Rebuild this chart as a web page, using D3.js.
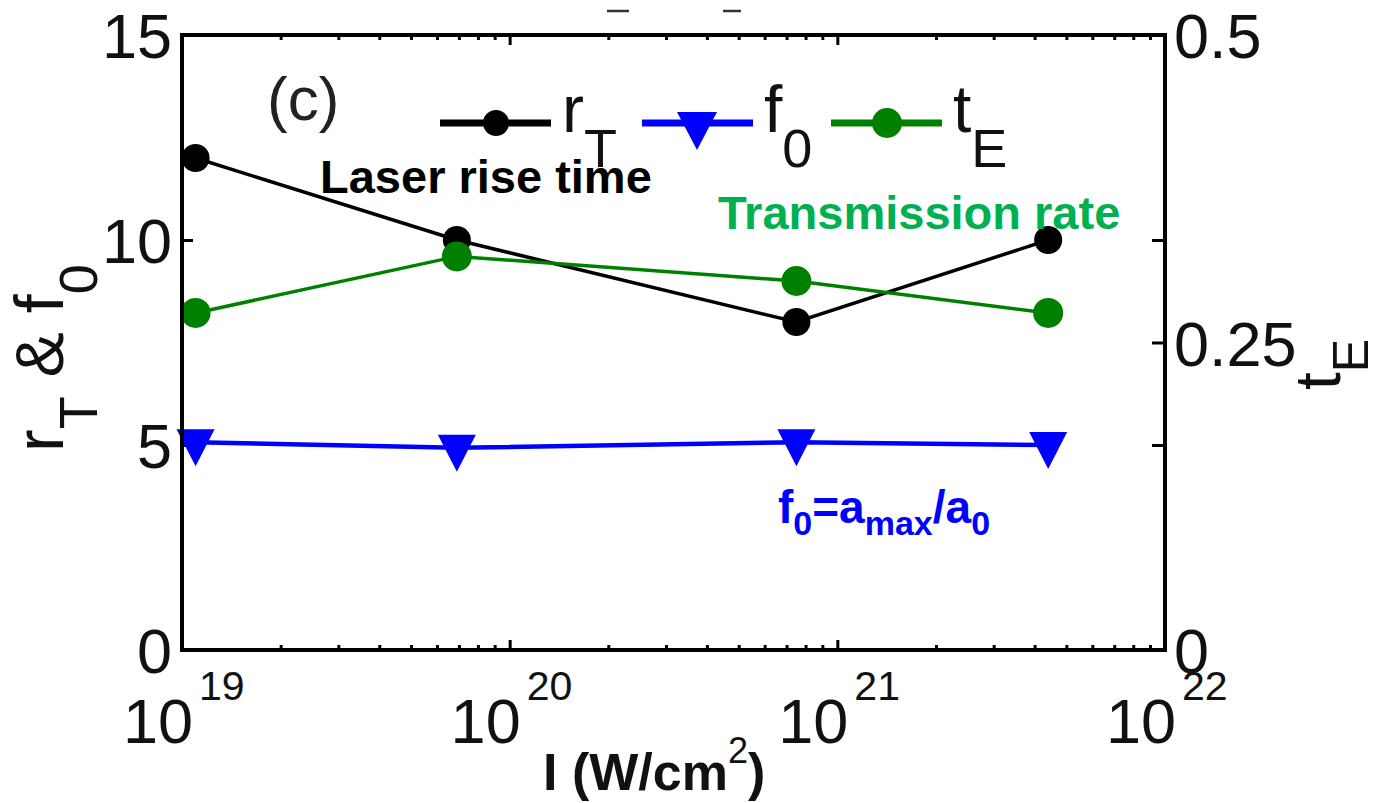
<!DOCTYPE html>
<html>
<head>
<meta charset="utf-8">
<script src="https://cdn.jsdelivr.net/npm/d3@7"></script>
<style>
  html, body { margin: 0; padding: 0; background: #fff; }
  svg { display: block; font-family: "Liberation Sans", Arial, Helvetica, sans-serif; }
</style>
</head>
<body>
<svg id="chart" width="1375" height="803"></svg>
<script>
// Laser intensity (W/cm^2) for each simulation run
const intensity = [1.1e19, 6.9e19, 7.5e20, 4.4e21];
// Laser rise time r_T (left axis)
const riseTime = [12, 10, 8, 10];
// Field amplification f0 = a_max / a0 (left axis)
const fieldRatio = [5.07, 4.93, 5.07, 5.0];
// Energy transmission rate t_E (right axis)
const transmission = [0.274, 0.32, 0.30, 0.274];

// Axis ticks
const xDecades = [19, 20, 21, 22];
const leftTicks = [0, 5, 10, 15];
const rightTickLabels = [0, 0.25, 0.5];
const rightTickMarks = [0.5 / 3, 0.25, 1 / 3];

const svg = d3.select("#chart");
const plotLeft = 182, plotRight = 1165, plotTop = 35, plotBottom = 650;

const x = d3.scaleLog().domain([1e19, 1e22]).range([plotLeft, plotRight]);
const yL = d3.scaleLinear().domain([0, 15]).range([plotBottom, plotTop]);
const yR = d3.scaleLinear().domain([0, 0.5]).range([plotBottom, plotTop]);

const majors = xDecades.map(e => Math.pow(10, e));
const minors = [];
for (let e = 19; e < 22; e++) for (let m = 2; m <= 9; m++) minors.push(m * Math.pow(10, e));

// ---- tick marks (inward) ----
function ticks(axis, transform) {
  const g = svg.append("g").attr("transform", transform).call(axis);
  g.select(".domain").remove();
  g.selectAll("line").attr("stroke", "#000").attr("stroke-width", 3);
  g.selectAll("text").remove();
  return g;
}
ticks(d3.axisBottom(x).tickValues(minors).tickSize(-5).tickFormat(""), `translate(0,${plotBottom})`);
ticks(d3.axisBottom(x).tickValues(majors).tickSize(-10).tickFormat(""), `translate(0,${plotBottom})`);
ticks(d3.axisTop(x).tickValues(minors).tickSize(-5).tickFormat(""), `translate(0,${plotTop})`);
ticks(d3.axisTop(x).tickValues(majors).tickSize(-10).tickFormat(""), `translate(0,${plotTop})`);
ticks(d3.axisLeft(yL).tickValues(leftTicks).tickSize(-11).tickFormat(""), `translate(${plotLeft},0)`);
ticks(d3.axisRight(yR).tickValues(rightTickMarks).tickSize(-13).tickFormat(""), `translate(${plotRight},0)`);

// ---- data lines and markers ----
const pts = (ys, yScale) => intensity.map((v, i) => [x(v), yScale(ys[i])]);
const line = d3.line();
const triangle = "M-19,-13L19,-13L0,24Z";

function series(ys, yScale, color, width, marker, r) {
  const p = pts(ys, yScale);
  svg.append("path").attr("d", line(p)).attr("fill", "none")
    .attr("stroke", color).attr("stroke-width", width);
  const g = svg.append("g");
  if (marker === "circle") {
    g.selectAll("circle").data(p).join("circle")
      .attr("cx", d => d[0]).attr("cy", d => d[1]).attr("r", r).attr("fill", color);
  } else {
    g.selectAll("path").data(p).join("path")
      .attr("d", triangle).attr("transform", d => `translate(${d[0]},${d[1]})`).attr("fill", color);
  }
}
series(riseTime, yL, "#000000", 3.5, "circle", 14);
series(fieldRatio, yL, "#0000ff", 4.5, "triangle");
series(transmission, yR, "#008000", 3.5, "circle", 15);

// ---- frame ----
svg.append("rect").attr("x", plotLeft).attr("y", plotTop)
  .attr("width", plotRight - plotLeft).attr("height", plotBottom - plotTop)
  .attr("fill", "none").attr("stroke", "#000").attr("stroke-width", 4);

// ---- tick labels ----
const tickFont = 63;
svg.append("g").selectAll("text").data(leftTicks).join("text")
  .attr("x", 172).attr("y", d => yL(d) + 23)
  .attr("text-anchor", "end").attr("font-size", tickFont).attr("fill", "#111")
  .text(d => d);

svg.append("g").selectAll("text").data(rightTickLabels).join("text")
  .attr("x", 1174).attr("y", d => yR(d) + 23)
  .attr("text-anchor", "start").attr("font-size", tickFont).attr("fill", "#111")
  .text(d => d);

const xl = svg.append("g").selectAll("g").data(xDecades).join("g")
  .attr("transform", d => `translate(${x(Math.pow(10, d))},0)`);
xl.append("text").attr("x", 11).attr("y", 743).attr("text-anchor", "end")
  .attr("font-size", tickFont).attr("fill", "#111").text("10");
xl.append("text").attr("x", 17).attr("y", 700).attr("text-anchor", "start")
  .attr("font-size", 41).attr("fill", "#111").text(d => d);

// ---- axis titles ----
const xt = svg.append("text").attr("x", 543).attr("y", 790)
  .attr("font-size", 52).attr("font-weight", "bold").attr("fill", "#111");
xt.append("tspan").text("I (W/cm");
xt.append("tspan").attr("dy", -27).attr("font-size", 36).attr("font-weight", "normal").text("2");
xt.append("tspan").attr("dy", 27).text(")");

const yt = svg.append("text").attr("transform", "translate(63,452) rotate(-90)")
  .attr("font-size", 68).attr("fill", "#111");
yt.append("tspan").text("r");
yt.append("tspan").attr("dy", 34).attr("font-size", 54).text("T");
yt.append("tspan").attr("dy", -34).text(" & f");
yt.append("tspan").attr("dy", 34).attr("font-size", 54).text("0");

const yt2 = svg.append("text").attr("transform", "translate(1340,390) rotate(-90)")
  .attr("font-size", 64).attr("fill", "#111");
yt2.append("tspan").text("t");
yt2.append("tspan").attr("dy", 28).attr("font-size", 50).text("E");

// ---- annotations ----
svg.append("text").attr("x", 267).attr("y", 120).attr("font-size", 62)
  .attr("fill", "#222").text("(c)");

svg.append("text").attr("x", 320).attr("y", 193).attr("font-size", 47)
  .attr("font-weight", "bold").attr("fill", "#000").text("Laser rise time");

svg.append("text").attr("x", 718).attr("y", 229).attr("font-size", 47)
  .attr("font-weight", "bold").attr("fill", "#00b050").text("Transmission rate");

const fa = svg.append("text").attr("x", 778).attr("y", 523).attr("font-size", 46)
  .attr("font-weight", "bold").attr("fill", "#0000ff");
fa.append("tspan").text("f");
fa.append("tspan").attr("dy", 12).attr("font-size", 34).text("0");
fa.append("tspan").attr("dy", -12).text("=a");
fa.append("tspan").attr("dy", 12).attr("font-size", 34).text("max");
fa.append("tspan").attr("dy", -12).text("/a");
fa.append("tspan").attr("dy", 12).attr("font-size", 34).text("0");

// ---- legend ----
const legendItems = [
  { x0: 440, color: "#000000", marker: "circle", r: 13, name: "r", sub: "T" },
  { x0: 642, color: "#0000ff", marker: "triangle", name: "f", sub: "0" },
  { x0: 831, color: "#008000", marker: "circle", r: 15, name: "t", sub: "E" }
];
const ly = 123;
const lg = svg.append("g").selectAll("g").data(legendItems).join("g")
  .attr("transform", d => `translate(${d.x0},${ly})`);
lg.append("line").attr("x1", 0).attr("x2", 111).attr("y1", 0).attr("y2", 0)
  .attr("stroke", d => d.color).attr("stroke-width", 7);
lg.filter(d => d.marker === "circle").append("circle")
  .attr("cx", 56).attr("cy", 0).attr("r", d => d.r).attr("fill", d => d.color);
lg.filter(d => d.marker === "triangle").append("path")
  .attr("d", "M-20,-11L20,-11L0,27Z").attr("transform", "translate(55,0)")
  .attr("fill", d => d.color);
const lt = lg.append("text").attr("x", 122).attr("y", 9).attr("font-size", 66).attr("fill", "#111");
lt.append("tspan").text(d => d.name);
lt.append("tspan").attr("dy", 35).attr("font-size", 54).text(d => d.sub);

// ---- remnants of the clipped heading above the frame ----
svg.append("g").selectAll("line").data([[607, 629], [723, 741]]).join("line")
  .attr("x1", d => d[0]).attr("x2", d => d[1]).attr("y1", 11).attr("y2", 11)
  .attr("stroke", "#333").attr("stroke-width", 2.5);
</script>
</body>
</html>
